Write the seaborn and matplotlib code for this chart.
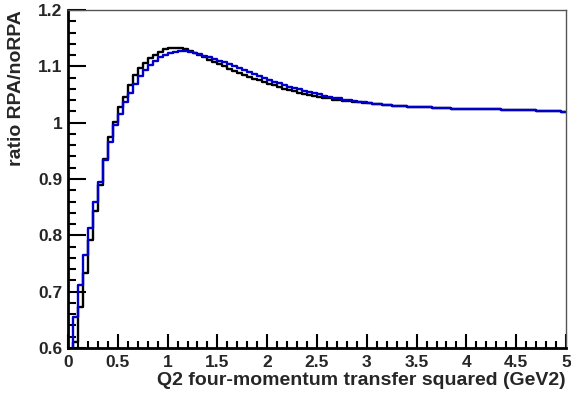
import numpy as np
import pandas as pd
import matplotlib
matplotlib.use("Agg")
import matplotlib.pyplot as plt
import seaborn as sns
from matplotlib.ticker import MultipleLocator, FuncFormatter

# ---- data (100 bins of width 0.05 from 0 to 5) ----
bin_lo = 0.0
bin_hi = 5.0
n_bins = 100

ratio_black = [
    0.50, 0.61, 0.673, 0.733, 0.792, 0.843, 0.889, 0.935, 0.975, 1.002,
    1.028, 1.046, 1.067, 1.085, 1.097, 1.106, 1.115, 1.121, 1.126, 1.130,
    1.132, 1.1325, 1.132, 1.130, 1.127, 1.124, 1.120, 1.116, 1.112, 1.108,
    1.104, 1.100, 1.096, 1.092, 1.088, 1.085, 1.081, 1.078, 1.075, 1.072,
    1.069, 1.066, 1.063, 1.060, 1.058, 1.056, 1.053, 1.051, 1.049, 1.047,
    1.046, 1.044, 1.043, 1.041, 1.040, 1.039, 1.038, 1.037, 1.036, 1.035,
    1.035, 1.034, 1.033, 1.032, 1.031, 1.030, 1.029, 1.029, 1.028, 1.028,
    1.027, 1.027, 1.027, 1.026, 1.026, 1.026, 1.026, 1.025, 1.025, 1.025,
    1.025, 1.025, 1.025, 1.024, 1.024, 1.024, 1.024, 1.023, 1.023, 1.023,
    1.023, 1.022, 1.022, 1.022, 1.021, 1.021, 1.020, 1.020, 1.020, 1.019,
]

ratio_blue = [
    0.55, 0.655, 0.712, 0.765, 0.813, 0.859, 0.895, 0.933, 0.965, 0.995,
    1.015, 1.037, 1.052, 1.068, 1.082, 1.093, 1.103, 1.110, 1.116, 1.121,
    1.124, 1.126, 1.127, 1.127, 1.126, 1.124, 1.122, 1.119, 1.116, 1.113,
    1.110, 1.107, 1.104, 1.100, 1.097, 1.093, 1.090, 1.086, 1.083, 1.080,
    1.076, 1.073, 1.070, 1.067, 1.064, 1.061, 1.059, 1.056, 1.054, 1.052,
    1.050, 1.048, 1.046, 1.044, 1.043, 1.041, 1.040, 1.039, 1.037, 1.036,
    1.035, 1.034, 1.033, 1.032, 1.031, 1.030, 1.029, 1.029, 1.028, 1.028,
    1.027, 1.027, 1.027, 1.026, 1.026, 1.026, 1.026, 1.025, 1.025, 1.025,
    1.025, 1.025, 1.025, 1.024, 1.024, 1.024, 1.024, 1.023, 1.023, 1.023,
    1.023, 1.022, 1.022, 1.022, 1.021, 1.021, 1.020, 1.020, 1.020, 1.019,
]

x_label = "Q2 four-momentum transfer squared (GeV2)"
y_label = "ratio RPA/noRPA"

# ---- build step data ----
edges = np.linspace(bin_lo, bin_hi, n_bins + 1)
def step_frame(vals):
    v = list(vals) + [vals[-1]]
    return pd.DataFrame({"x": edges, "y": v})

df_black = step_frame(ratio_black)
df_blue = step_frame(ratio_blue)

sns.set_theme(style="white")
plt.rcParams["font.family"] = ["Liberation Sans", "DejaVu Sans"]
plt.rcParams["font.weight"] = "bold"

fig = plt.figure(figsize=(5.71, 3.95), dpi=100)
ax = fig.add_axes([68 / 571, 1 - 348 / 395, (566 - 68) / 571, (348 - 10) / 395])

sns.lineplot(data=df_black, x="x", y="y", ax=ax, color="black", lw=1.7,
             drawstyle="steps-post", estimator=None, sort=False)
sns.lineplot(data=df_blue, x="x", y="y", ax=ax, color="#0000c8", lw=1.7,
             drawstyle="steps-post", estimator=None, sort=False)

ax.set_xlim(0, 5)
ax.set_ylim(0.6, 1.2)

ax.xaxis.set_major_locator(MultipleLocator(0.5))
ax.xaxis.set_minor_locator(MultipleLocator(0.1))
ax.yaxis.set_major_locator(MultipleLocator(0.1))
ax.yaxis.set_minor_locator(MultipleLocator(0.02))

fmt = FuncFormatter(lambda v, p: ("%g" % round(v, 3)))
ax.xaxis.set_major_formatter(fmt)
ax.yaxis.set_major_formatter(fmt)

ax.tick_params(axis="both", which="both", direction="in", left=True, bottom=True,
               top=False, right=False, color="black", width=1.5)
ax.tick_params(axis="y", which="major", length=13, pad=4, labelsize=12.5)
ax.tick_params(axis="y", which="minor", length=6)
ax.tick_params(axis="x", which="major", length=10, pad=5, labelsize=12.5)
ax.tick_params(axis="x", which="minor", length=5)
for lab in ax.get_xticklabels() + ax.get_yticklabels():
    lab.set_fontweight("bold")

for s in ["left", "bottom"]:
    ax.spines[s].set_color("black")
    ax.spines[s].set_linewidth(2.0)
for s in ["top", "right"]:
    ax.spines[s].set_visible(True)
    ax.spines[s].set_color("#555555")
    ax.spines[s].set_linewidth(1.0)

ax.set_xlabel(x_label, loc="right", fontsize=14, fontweight="bold")
ax.set_ylabel(y_label, loc="top", fontsize=14, fontweight="bold")
ax.xaxis.set_label_coords(1.0, -0.072)
ax.yaxis.set_label_coords(-0.086, 1.0)

fig.savefig("out.png", dpi=100)
